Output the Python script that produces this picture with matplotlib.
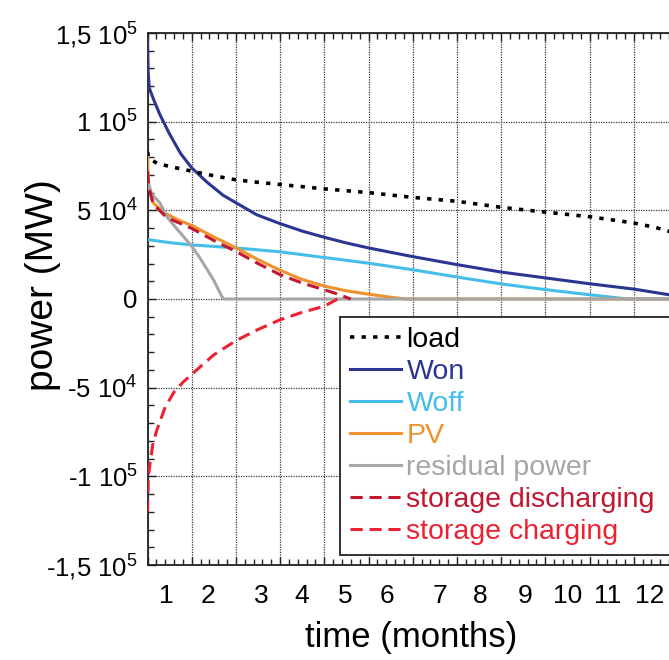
import matplotlib
matplotlib.use("Agg")
import matplotlib.pyplot as plt
import numpy as np

plt.rcParams["font.family"] = ["Liberation Sans", "DejaVu Sans"]
plt.rcParams["mathtext.fontset"] = "custom"
plt.rcParams["mathtext.rm"] = "Liberation Sans"
plt.rcParams["mathtext.default"] = "regular"

# sorted duration curves, time in months
load_t = [0, 0.03, 0.22, 0.6, 1, 1.5, 2, 2.5, 3, 4, 5, 6, 7, 8, 9, 10, 11, 11.5, 12]
load_p = [83000, 79500, 76400, 74200, 72100, 69500, 67200, 65800, 64600, 62100,
          60000, 57300, 55100, 51700, 49000, 46400, 42900, 40300, 36800]

won_t = [0, 0.015, 0.04, 0.13, 0.28, 0.5, 0.75, 1, 1.34, 1.71, 2.02, 2.47, 3, 3.5,
         4, 4.5, 5, 6, 7, 8, 9, 10, 11, 11.8, 12]
won_p = [146000, 128000, 119000, 113000, 104000, 93000, 82000, 74000, 66000, 58500,
         54000, 47500, 42500, 38300, 34800, 31600, 28800, 23900, 19400, 15200,
         11900, 8600, 5600, 2400, 900]

woff_t = [0, 0.5, 1, 2, 3, 4, 5, 6, 7, 8, 9, 10, 10.5, 10.85, 12]
woff_p = [33500, 31800, 30500, 28800, 26600, 23400, 20200, 16500, 12400, 8500,
          5300, 2400, 1000, 0, 0]

pv_t = [0, 0.01, 0.03, 0.13, 0.25, 0.43, 0.7, 1, 1.5, 2, 2.5, 3, 3.5, 4, 4.5, 5,
        5.5, 5.85, 12]
pv_p = [80600, 72000, 63600, 54200, 51500, 48000, 44500, 41500, 35000, 28900,
        22200, 16200, 11000, 7300, 4600, 2700, 1000, 0, 0]

resid_t = [0, 0.01, 0.1, 0.28, 0.45, 0.7, 0.96, 1.15, 1.34, 1.5, 1.68, 1.73, 12]
resid_p = [72000, 66000, 59000, 54200, 46000, 38500, 31000, 24500, 17000, 10500,
           1500, 0, 0]

dis_t = [0, 0.03, 0.13, 0.43, 1, 1.5, 2, 2.5, 3, 3.5, 4, 4.3, 4.6]
dis_p = [72000, 63000, 53500, 46000, 39800, 33000, 26800, 20000, 13700, 9000,
         5200, 2800, 0]

chg_t = [0, 0.01, 0.02, 0.06, 0.12, 0.21, 0.4, 0.6, 0.8, 1, 1.5, 2, 2.5, 3, 3.5,
         4, 4.3]
chg_p = [-120000, -110000, -100000, -92000, -82000, -74000, -61000, -52500, -47000,
         -42500, -31500, -23500, -17200, -11700, -7500, -4100, 0]

month_pos = [0.43, 1.38, 2.58, 3.49, 4.47, 5.41, 6.62, 7.52, 8.54, 9.51, 10.42, 11.37]
month_lab = [str(i) for i in range(1, 13)]

ytick_val = [-150000, -100000, -50000, 0, 50000, 100000, 150000]
ytick_lab = [r"-1,5 10$^5$", r"-1 10$^5$", r"-5 10$^4$", "0",
             r"5 10$^4$", r"1 10$^5$", r"1,5 10$^5$"]

c_load = "black"
c_won = "#2c3591"
c_woff = "#44bde9"
c_pv = "#f0912f"
c_res = "#a6a6a6"
c_dis = "#c3162f"
c_chg = "#ec2131"

fig = plt.figure(figsize=(6.69, 6.60), dpi=100)
ax = fig.add_axes([147.5 / 669, 95 / 660, 530.4 / 669, 532 / 660])

lw = 2.2
ax.plot(won_t, won_p, color=c_won, lw=lw, label="Won", zorder=3)
ax.plot(woff_t, woff_p, color=c_woff, lw=lw, label="Woff", zorder=3)
ax.plot(pv_t, pv_p, color=c_pv, lw=lw, label="PV", zorder=3)
ax.plot(resid_t, resid_p, color=c_res, lw=lw, label="residual power", zorder=4)
ax.plot(dis_t, dis_p, color=c_dis, lw=lw, dashes=(4, 2.2),
        label="storage discharging", zorder=5)
ax.plot(chg_t, chg_p, color=c_chg, lw=lw, dashes=(4, 2.2),
        label="storage charging", zorder=5)
ax.plot(load_t, load_p, color=c_load, lw=2.6, dashes=(1.2, 2.0),
        label="load", zorder=6)

ax.set_xlim(0, 12)
ax.set_ylim(-150000, 150000)

ax.set_xticks(np.arange(0, 13))
ax.set_xticklabels([])
ax.set_xticks(np.arange(0, 12.01, 0.2), minor=True)
ax.set_yticks(ytick_val)
ax.set_yticklabels(ytick_lab, fontsize=18.5)
ax.set_yticks(np.arange(-150000, 150001, 10000), minor=True)

ax.tick_params(which="both", direction="in", top=True, right=True,
               color="#222222", width=1.0)
ax.tick_params(which="major", length=6, pad=7)
ax.tick_params(which="minor", length=4)

ax.grid(True, which="major", color="#3a3a3a", linestyle=(0, (1, 1)), lw=0.9)

for sp in ax.spines.values():
    sp.set_color("#222222")
    sp.set_linewidth(1.3)

for x, s in zip(month_pos, month_lab):
    ax.text(x, -0.059, s, transform=ax.get_xaxis_transform(),
            ha="center", va="center", fontsize=19)

fig.text(411 / 669, 1 - 638 / 660, "time (months)", ha="center", va="center",
         fontsize=25)
fig.text(43 / 669, 1 - 285 / 660, "power (MW)", ha="center", va="center",
         rotation=90, fontsize=28)

order = ["load", "Won", "Woff", "PV", "residual power",
         "storage discharging", "storage charging"]
h, l = ax.get_legend_handles_labels()
hd = dict(zip(l, h))
leg = ax.legend([hd[k] for k in order], order, loc="lower left",
                bbox_to_anchor=(0.363, 0.019, 0.637, 0.5), mode="expand",
                borderaxespad=0, fontsize=20.5, labelcolor="linecolor",
                handlelength=1.8, handletextpad=0.18, labelspacing=0.21,
                borderpad=0.35, fancybox=False, framealpha=1)
leg.get_frame().set_edgecolor("#333333")
leg.get_frame().set_linewidth(1.4)
leg.set_zorder(10)

fig.savefig("out.png", dpi=100)
